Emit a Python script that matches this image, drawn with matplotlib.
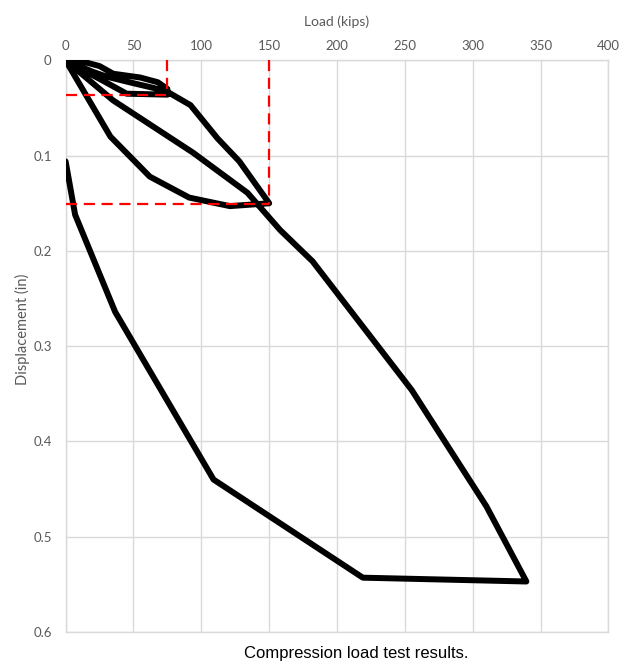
import matplotlib
matplotlib.use("Agg")
import matplotlib.pyplot as plt
import numpy as np

# ciclo de carga completo (kips, pulgadas)
carga = [0, 12, 25, 35, 55, 68, 75,          # carga a 75
         75, 45, 0,                          # descarga
         20, 30, 50, 65, 75,                 # recarga a 75
         92, 112, 128, 150,                  # carga a 150
         121, 91, 62, 33, 0,                 # descarga desde 150
         35, 94, 134, 158, 182, 255, 310, 339.5,   # recarga hasta 340
         219, 109, 36.5, 7, 0]               # descarga final
desplazamiento = [0, 0.001, 0.006, 0.014, 0.018, 0.023, 0.030,
                  0.036, 0.035, 0.0,
                  0.012, 0.017, 0.024, 0.029, 0.033,
                  0.047, 0.082, 0.106, 0.150,
                  0.153, 0.144, 0.122, 0.080, 0.0,
                  0.042, 0.097, 0.139, 0.178, 0.211, 0.346, 0.468, 0.547,
                  0.543, 0.440, 0.264, 0.162, 0.106]

# lineas de referencia (rojas)
ref_cargas = [75, 150]
ref_desp = [0.0365, 0.151]

x_ticks = [0, 50, 100, 150, 200, 250, 300, 350, 400]
y_ticks = [0, 0.1, 0.2, 0.3, 0.4, 0.5, 0.6]
y_labels = ["0", "0.1", "0.2", "0.3", "0.4", "0.5", "0.6"]

gris_texto = "#595959"
gris_grilla = "#D9D9D9"
fuente = ["Lato", "DejaVu Sans"]

fig = plt.figure(figsize=(6.19, 6.67), dpi=100)
ax = fig.add_axes([0.106, 0.0525, 0.877, 0.857])

ax.plot(carga, desplazamiento, color="black", lw=4.3, solid_joinstyle="round",
        solid_capstyle="round", zorder=3)

for c, d in zip(ref_cargas, ref_desp):
    ax.plot([c, c], [0, d], color="red", lw=1.6, dashes=(5, 3), zorder=4)
    ax.plot([0, c], [d, d], color="red", lw=1.6, dashes=(5, 3), zorder=4)

ax.set_xlim(0, 400)
ax.set_ylim(0.6, 0)
ax.set_xticks(x_ticks)
ax.set_yticks(y_ticks)
ax.set_yticklabels(y_labels)
ax.xaxis.tick_top()
ax.xaxis.set_label_position("top")
ax.grid(True, color=gris_grilla, lw=1)
ax.set_axisbelow(True)
for s in ax.spines.values():
    s.set_color(gris_grilla)
    s.set_linewidth(1)
ax.tick_params(axis="both", length=0, colors=gris_texto, labelsize=9.5)
ax.tick_params(axis="x", pad=6)
ax.tick_params(axis="y", pad=10)
for lab in ax.get_xticklabels() + ax.get_yticklabels():
    lab.set_family(fuente)

ax.set_xlabel("Load (kips)", color=gris_texto, fontsize=10, family=fuente, labelpad=10)
ax.set_ylabel("Displacement (in)", color=gris_texto, fontsize=10.5, family=fuente)
ax.yaxis.set_label_coords(-0.066, 0.53)

fig.text(0.576, 0.02, "Compression load test results.", ha="center", va="center",
         fontsize=12, family=["Liberation Sans Narrow", "Liberation Sans"], color="black")

fig.savefig("out.png", dpi=100)
